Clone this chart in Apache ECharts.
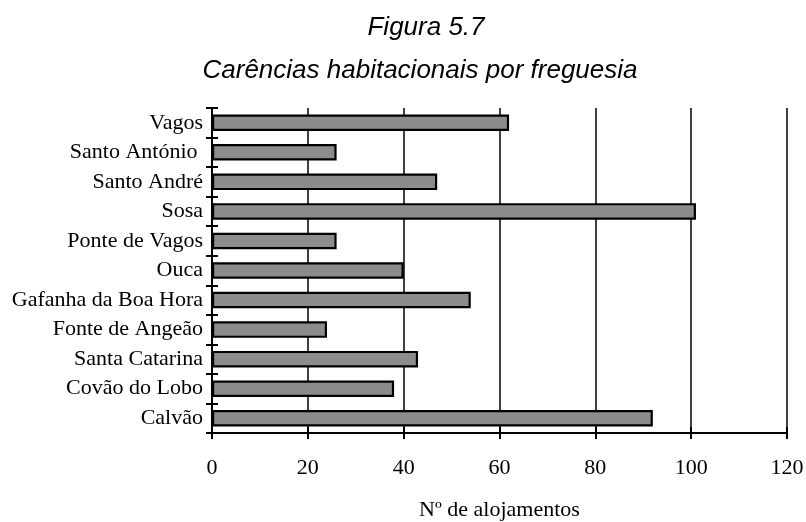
<!DOCTYPE html>
<html>
<head>
<meta charset="utf-8">
<script src="https://cdn.jsdelivr.net/npm/echarts@6/dist/echarts.min.js"></script>
<style>
  html, body { margin: 0; padding: 0; background: #fff; }
  #chart { width: 806px; height: 522px; }
</style>
</head>
<body>
<div id="chart"></div>
<script>
// Freguesias, listed bottom to top as drawn on the category axis
const freguesias = [
  'Calvão', 'Covão do Lobo', 'Santa Catarina', 'Fonte de Angeão',
  'Gafanha da Boa Hora', 'Ouca', 'Ponte de Vagos', 'Sosa',
  'Santo André', 'Santo António ', 'Vagos'
];
// Number of dwellings with housing deficiencies
const alojamentos = [92, 38, 43, 24, 54, 40, 26, 101, 47, 26, 62];
const xTicks = [0, 20, 40, 60, 80, 100, 120];

const serif = '"Liberation Serif", "Times New Roman", serif';
const sans = '"Liberation Sans", Arial, sans-serif';

const chart = echarts.init(document.getElementById('chart'), null, { renderer: 'canvas' });

const titleStyle = { fontFamily: sans, fontStyle: 'italic', fontWeight: 'normal', fontSize: 26, color: '#000' };

const option = {
  backgroundColor: '#ffffff',
  animation: false,
  title: [
    { text: 'Figura 5.7', left: 421, top: 10, textAlign: 'center', textStyle: titleStyle },
    { text: 'Carências habitacionais por freguesia', left: 415, top: 53, textAlign: 'center', textStyle: titleStyle }
  ],
  grid: { left: 212, right: 19, top: 108, bottom: 89, containLabel: false, outerBoundsMode: 'none' },
  xAxis: [
    {
      type: 'value', min: xTicks[0], max: xTicks[xTicks.length - 1], interval: 20,
      name: 'Nº de alojamentos', nameLocation: 'middle', nameGap: 66,
      nameTextStyle: { fontFamily: serif, fontSize: 22, color: '#000' },
      axisLine: { show: true, lineStyle: { color: '#000', width: 2 } },
      axisTick: { show: true, length: 6, lineStyle: { color: '#000', width: 2 } },
      axisLabel: { margin: 24, fontFamily: serif, fontSize: 22, color: '#000' },
      splitLine: { show: true, lineStyle: { color: '#000', width: 1.5 } }
    },
    {
      type: 'value', min: xTicks[0], max: xTicks[xTicks.length - 1], interval: 20,
      position: 'bottom',
      axisLine: { show: false },
      axisTick: { show: true, inside: true, length: 6, lineStyle: { color: '#000', width: 2 } },
      axisLabel: { show: false },
      splitLine: { show: false }
    }
  ],
  yAxis: [
    {
      type: 'category', data: freguesias,
      axisLine: { show: true, lineStyle: { color: '#000', width: 2 } },
      axisTick: { show: true, length: 6, lineStyle: { color: '#000', width: 2 } },
      axisLabel: { margin: 9, fontFamily: serif, fontSize: 22, color: '#000' }
    },
    {
      type: 'category', data: freguesias, position: 'left',
      axisLine: { show: false },
      axisTick: { show: true, inside: true, length: 6, lineStyle: { color: '#000', width: 2 } },
      axisLabel: { show: false }
    }
  ],
  series: [
    {
      type: 'bar', data: alojamentos, barWidth: 16.5,
      itemStyle: { color: '#8c8c8c', borderColor: '#000', borderWidth: 2.2 }
    }
  ]
};

chart.setOption(option);
</script>
</body>
</html>
